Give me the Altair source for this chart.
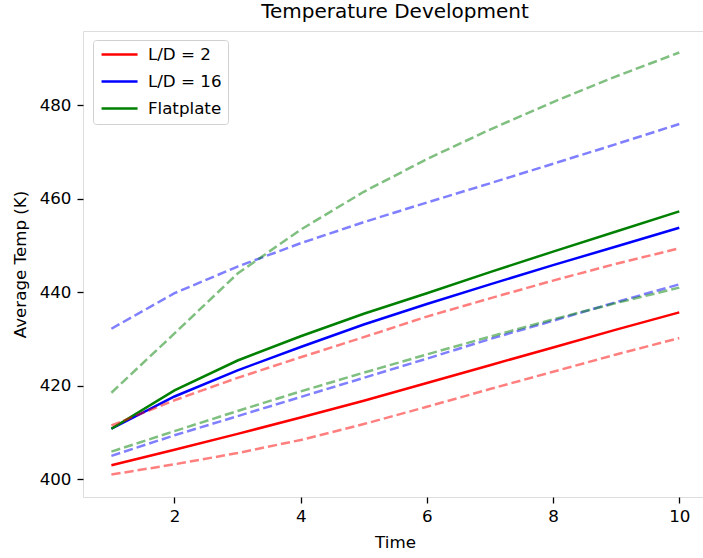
import altair as alt
import pandas as pd

time = list(range(1, 11))
series_names = ["L/D = 2", "L/D = 16", "Flatplate"]
series_colors = ["red", "blue", "green"]
band_colors = ["rgba(255,0,0,0.5)", "rgba(0,0,255,0.5)", "rgba(0,128,0,0.5)"]

ld2_mean = [403.0, 406.3, 409.7, 413.2, 416.8, 420.6, 424.4, 428.2, 432.0, 435.7]
ld2_low = [401.0, 403.2, 405.6, 408.4, 411.8, 415.5, 419.3, 423.0, 426.7, 430.2]
ld2_high = [411.5, 416.9, 421.7, 426.1, 430.4, 434.8, 438.7, 442.5, 446.1, 449.4]

ld16_mean = [410.8, 417.7, 423.3, 428.3, 433.1, 437.5, 441.7, 445.8, 449.8, 453.8]
ld16_low = [405.0, 409.4, 413.5, 417.6, 421.7, 425.8, 430.0, 433.9, 437.9, 441.7]
ld16_high = [432.2, 439.8, 445.5, 450.5, 455.0, 459.2, 463.3, 467.5, 471.7, 476.0]

flat_mean = [410.8, 419.0, 425.4, 430.6, 435.4, 439.8, 444.3, 448.7, 453.0, 457.3]
flat_low = [405.9, 410.3, 414.6, 418.8, 422.8, 426.7, 430.5, 434.2, 437.7, 441.0]
flat_high = [418.5, 431.2, 444.0, 453.4, 461.5, 468.5, 474.8, 480.7, 486.2, 491.3]

means = [ld2_mean, ld16_mean, flat_mean]
bounds = [(ld2_low, ld2_high), (ld16_low, ld16_high), (flat_low, flat_high)]

solid_rows = []
dash_rows = []
for name, color, m, (lo, hi) in zip(series_names, band_colors, means, bounds):
    for t, v in zip(time, m):
        solid_rows.append({"time": t, "temp": v, "series": name})
    for tag, arr in (("low", lo), ("high", hi)):
        for t, v in zip(time, arr):
            dash_rows.append({"time": t, "temp": v, "line": name + " " + tag, "color": color})

solid_df = pd.DataFrame(solid_rows)
dash_df = pd.DataFrame(dash_rows)

FONT = "DejaVu Sans"

x_enc = alt.X("time:Q", title="Time",
              scale=alt.Scale(domain=[0.55, 10.376], nice=False, zero=False),
              axis=alt.Axis(values=[2, 4, 6, 8, 10], grid=False, domain=False,
                            tickColor="black", tickWidth=1.3, tickSize=6,
                            labelPadding=5, labelFont=FONT, labelFontSize=16.7,
                            labelColor="black", titleFont=FONT, titleFontSize=16.7,
                            titleFontWeight="normal", titleColor="black",
                            titleBaseline="alphabetic", titleY=50, titleX=312))
y_enc = alt.Y("temp:Q", title="Average Temp (K)",
              scale=alt.Scale(domain=[396.2, 495.9], nice=False, zero=False),
              axis=alt.Axis(values=[400, 420, 440, 460, 480], grid=False, domain=False,
                            tickColor="black", tickWidth=1.3, tickSize=6,
                            labelPadding=6, labelFont=FONT, labelFontSize=16.7,
                            labelColor="black", titleFont=FONT, titleFontSize=16.7,
                            titleFontWeight="normal", titleColor="black",
                            titleBaseline="alphabetic", titleX=-58, titleY=233))

solid = alt.Chart(solid_df).mark_line(strokeWidth=2.5).encode(
    x=x_enc, y=y_enc,
    color=alt.Color("series:N",
                    scale=alt.Scale(domain=series_names, range=series_colors),
                    sort=series_names,
                    legend=alt.Legend(orient="none", legendX=10, legendY=9, title=None,
                                      symbolType="M-1,0L5,0", symbolSize=144,
                                      symbolStrokeWidth=2.5, symbolOpacity=1,
                                      labelFont=FONT,
                                      labelFontSize=16.7, labelColor="black",
                                      labelOffset=32, rowPadding=9, padding=6.2,
                                      strokeColor="#d0d0d0", fillColor="white",
                                      cornerRadius=3)),
)

dashed = alt.Chart(dash_df).mark_line(strokeDash=[9.25, 4], strokeWidth=2.5).encode(
    x=x_enc, y=y_enc,
    color=alt.Color("color:N", scale=None),
    detail="line:N",
)

chart = alt.layer(solid, dashed).properties(
    width=620, height=466,
    title=alt.TitleParams("Temperature Development", font=FONT, fontSize=20,
                          fontWeight="normal", color="black", anchor="middle",
                          baseline="alphabetic", offset=11, dx=2, dy=18),
    autosize=alt.AutoSizeParams(type="none"),
    padding={"left": 83, "top": 31, "right": 0, "bottom": 61},
).configure_view(stroke="black", strokeWidth=1.3).configure(background="white")

chart.save("out.html", embed_options={"renderer": "svg", "actions": False})
